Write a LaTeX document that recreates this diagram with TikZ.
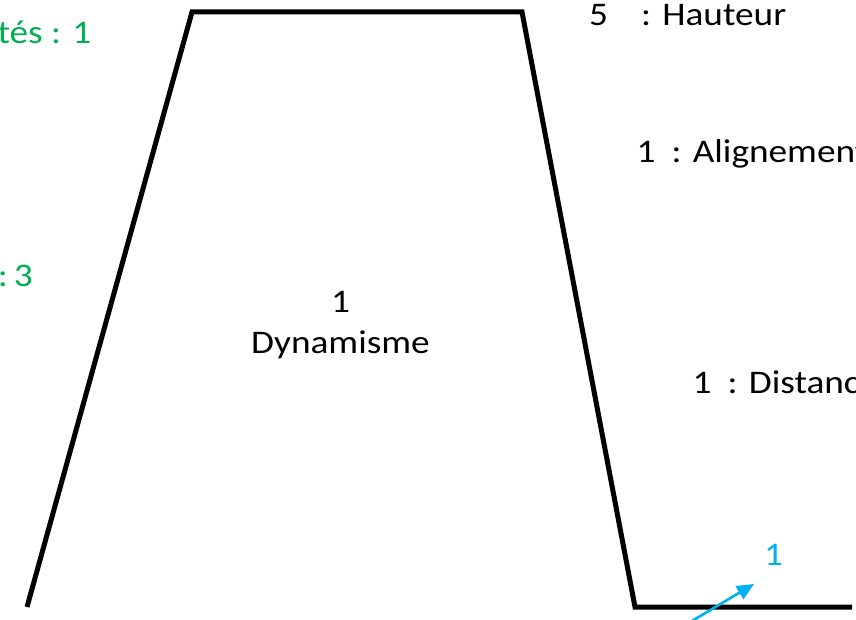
\documentclass[tikz,border=0pt]{standalone}
\usepackage{fontspec}
\setmainfont{Carlito}[FakeStretch=1.13]
\usetikzlibrary{arrows.meta}
\definecolor{offgreen}{HTML}{00B050}
\definecolor{offblue}{HTML}{00B0F0}
\tikzset{
  shape line/.style={line width=5pt, black, line join=miter},
  lbl/.style={inner sep=0pt, font=\fontsize{33}{41}\selectfont},
  greenlbl/.style={lbl, text=offgreen},
  bluelbl/.style={lbl, text=offblue},
  pointer/.style={offblue, line width=2.6pt, -{Triangle[length=17pt,width=15pt]}}
}
\begin{document}
\begin{tikzpicture}[x=1pt,y=-1pt]
\useasboundingbox (0,0) rectangle (856,620);
\clip (0,0) rectangle (856,620);
\fill[white] (0,0) rectangle (856,620);
% trapezoid profile
\coordinate (bl) at (27,607);
\coordinate (tl) at (192,12);
\coordinate (tr) at (522,12);
\coordinate (br) at (635,607);
\coordinate (er) at (852,607);
\draw[shape line] (bl) -- (tl) -- (tr) -- (br) -- (er);
% texts
\node[greenlbl, anchor=base east] (qual) at (91.5,44) {tés : 1};
\node[greenlbl, anchor=base east] (trois) at (33,287) {:\hspace{6pt}3};
\node[lbl, anchor=base west] (haut) at (589,26) {5\hspace{33pt}: Hauteur};
\node[lbl, anchor=base west] (align) at (636.5,163) {1\hspace{16pt}: Alignement};
\node[lbl, anchor=base west] (dist) at (692.5,393) {1\hspace{16pt}: Distance};
\node[lbl, anchor=base, align=center] (dyn) at (340.5,353) {1\\Dynamisme};
\node[bluelbl, anchor=base west] (one) at (764,565) {1};
% arrow
\coordinate (astart) at (660,640);
\coordinate (atip) at (754,584);
\draw[pointer] (astart) -- (atip);
\end{tikzpicture}
\end{document}
